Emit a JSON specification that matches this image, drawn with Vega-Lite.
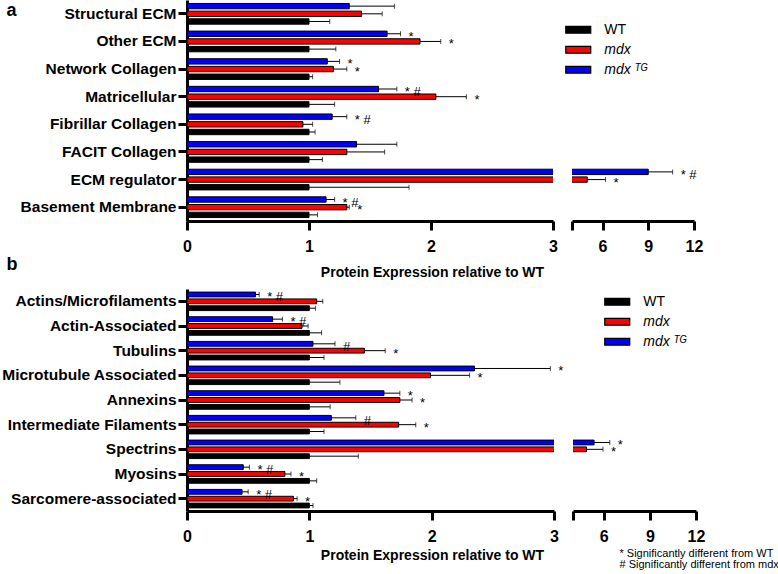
{
  "$schema": "https://vega.github.io/schema/vega-lite/v6.json",
  "padding": 0,
  "background": "white",
  "config": {
    "view": {"stroke": null},
    "font": "Liberation Sans",
    "axis": {"grid": false, "domainColor": "black", "tickColor": "black", "labelColor": "black", "titleColor": "black", "labelFont": "Liberation Sans", "titleFont": "Liberation Sans"}
  },
  "datasets": {
    "a": [
      {"cat": "Structural ECM", "grp": "mdxTG", "v": 1.33, "hi": 1.70, "sig": ""},
      {"cat": "Structural ECM", "grp": "mdx", "v": 1.43, "hi": 1.60, "sig": ""},
      {"cat": "Structural ECM", "grp": "WT", "v": 1.0, "hi": 1.17, "sig": ""},
      {"cat": "Other ECM", "grp": "mdxTG", "v": 1.64, "hi": 1.75, "sig": "*"},
      {"cat": "Other ECM", "grp": "mdx", "v": 1.91, "hi": 2.08, "sig": "*"},
      {"cat": "Other ECM", "grp": "WT", "v": 1.0, "hi": 1.22, "sig": ""},
      {"cat": "Network Collagen", "grp": "mdxTG", "v": 1.15, "hi": 1.25, "sig": "*"},
      {"cat": "Network Collagen", "grp": "mdx", "v": 1.20, "hi": 1.31, "sig": "*"},
      {"cat": "Network Collagen", "grp": "WT", "v": 1.0, "hi": 1.03, "sig": ""},
      {"cat": "Matricellular", "grp": "mdxTG", "v": 1.57, "hi": 1.72, "sig": "* #"},
      {"cat": "Matricellular", "grp": "mdx", "v": 2.04, "hi": 2.29, "sig": "*"},
      {"cat": "Matricellular", "grp": "WT", "v": 1.0, "hi": 1.21, "sig": ""},
      {"cat": "Fibrillar Collagen", "grp": "mdxTG", "v": 1.19, "hi": 1.31, "sig": "* #"},
      {"cat": "Fibrillar Collagen", "grp": "mdx", "v": 0.95, "hi": 1.03, "sig": ""},
      {"cat": "Fibrillar Collagen", "grp": "WT", "v": 1.0, "hi": 1.05, "sig": ""},
      {"cat": "FACIT Collagen", "grp": "mdxTG", "v": 1.39, "hi": 1.72, "sig": ""},
      {"cat": "FACIT Collagen", "grp": "mdx", "v": 1.31, "hi": 1.62, "sig": ""},
      {"cat": "FACIT Collagen", "grp": "WT", "v": 1.0, "hi": 1.11, "sig": ""},
      {"cat": "ECM regulator", "grp": "mdxTG", "v": 9.0, "hi": 10.6, "sig": "* #"},
      {"cat": "ECM regulator", "grp": "mdx", "v": 5.0, "hi": 6.2, "sig": "*"},
      {"cat": "ECM regulator", "grp": "WT", "v": 1.0, "hi": 1.82, "sig": ""},
      {"cat": "Basement Membrane", "grp": "mdxTG", "v": 1.14, "hi": 1.21, "sig": "* #"},
      {"cat": "Basement Membrane", "grp": "mdx", "v": 1.31, "hi": 1.33, "sig": "*"},
      {"cat": "Basement Membrane", "grp": "WT", "v": 1.0, "hi": 1.07, "sig": ""}
    ],
    "b": [
      {"cat": "Actins/Microfilaments", "grp": "mdxTG", "v": 0.56, "hi": 0.59, "sig": "* #"},
      {"cat": "Actins/Microfilaments", "grp": "mdx", "v": 1.06, "hi": 1.11, "sig": ""},
      {"cat": "Actins/Microfilaments", "grp": "WT", "v": 1.0, "hi": 1.05, "sig": ""},
      {"cat": "Actin-Associated", "grp": "mdxTG", "v": 0.70, "hi": 0.78, "sig": "* #"},
      {"cat": "Actin-Associated", "grp": "mdx", "v": 0.94, "hi": 0.99, "sig": ""},
      {"cat": "Actin-Associated", "grp": "WT", "v": 1.0, "hi": 1.10, "sig": ""},
      {"cat": "Tubulins", "grp": "mdxTG", "v": 1.03, "hi": 1.21, "sig": "#"},
      {"cat": "Tubulins", "grp": "mdx", "v": 1.45, "hi": 1.62, "sig": "*"},
      {"cat": "Tubulins", "grp": "WT", "v": 1.0, "hi": 1.12, "sig": ""},
      {"cat": "Microtubule Associated", "grp": "mdxTG", "v": 2.35, "hi": 2.97, "sig": "*"},
      {"cat": "Microtubule Associated", "grp": "mdx", "v": 1.99, "hi": 2.31, "sig": "*"},
      {"cat": "Microtubule Associated", "grp": "WT", "v": 1.0, "hi": 1.25, "sig": ""},
      {"cat": "Annexins", "grp": "mdxTG", "v": 1.61, "hi": 1.74, "sig": "*"},
      {"cat": "Annexins", "grp": "mdx", "v": 1.74, "hi": 1.84, "sig": "*"},
      {"cat": "Annexins", "grp": "WT", "v": 1.0, "hi": 1.17, "sig": ""},
      {"cat": "Intermediate Filaments", "grp": "mdxTG", "v": 1.18, "hi": 1.38, "sig": "#"},
      {"cat": "Intermediate Filaments", "grp": "mdx", "v": 1.73, "hi": 1.87, "sig": "*"},
      {"cat": "Intermediate Filaments", "grp": "WT", "v": 1.0, "hi": 1.12, "sig": ""},
      {"cat": "Spectrins", "grp": "mdxTG", "v": 5.37, "hi": 6.39, "sig": "*"},
      {"cat": "Spectrins", "grp": "mdx", "v": 4.88, "hi": 5.95, "sig": "*"},
      {"cat": "Spectrins", "grp": "WT", "v": 1.0, "hi": 1.40, "sig": ""},
      {"cat": "Myosins", "grp": "mdxTG", "v": 0.46, "hi": 0.51, "sig": "* #"},
      {"cat": "Myosins", "grp": "mdx", "v": 0.80, "hi": 0.85, "sig": "*"},
      {"cat": "Myosins", "grp": "WT", "v": 1.0, "hi": 1.06, "sig": ""},
      {"cat": "Sarcomere-associated", "grp": "mdxTG", "v": 0.45, "hi": 0.50, "sig": "* #"},
      {"cat": "Sarcomere-associated", "grp": "mdx", "v": 0.87, "hi": 0.90, "sig": "*"},
      {"cat": "Sarcomere-associated", "grp": "WT", "v": 1.0, "hi": 1.03, "sig": ""}
    ]
  },
  "spacing": -24,
  "resolve": {"legend": {"color": "independent"}, "scale": {"yOffset": "independent"}},
  "vconcat": [
    {
      "spacing": 19,
      "bounds": "flush",
      "resolve": {"legend": {"color": "independent"}, "scale": {"yOffset": "independent"}},
      "hconcat": [
        {
          "width": 366,
          "height": 221,
          "data": {"name": "a"},
          "encoding": {
            "y": {"field": "cat", "type": "nominal", "sort": null, "scale": {"paddingInner": 0.25, "paddingOuter": 0.125},
              "axis": {"title": "a", "titleAngle": 0, "titleX": -181, "titleY": 10, "titleAlign": "left", "titleBaseline": "middle", "titleFontSize": 18, "titleFontWeight": "bold",
                "minExtent": 187, "maxExtent": 187, "domainWidth": 3, "tickWidth": 3, "tickSize": 9, "labelFontSize": 15.5, "labelFontWeight": "bold", "labelPadding": 2}},
            "yOffset": {"field": "grp", "type": "nominal", "sort": ["mdxTG", "mdx", "WT"], "scale": {"paddingInner": 0.3}},
            "x": {"field": "v", "type": "quantitative", "scale": {"domain": [0, 3], "nice": false, "zero": false},
              "axis": {"values": [0, 1, 2, 3], "format": "d", "domainWidth": 3, "tickWidth": 3, "tickSize": 9, "labelFontSize": 16, "labelFontWeight": "bold", "labelPadding": 8, "labelFlush": false, "labelOverlap": false,
                "title": "Protein Expression relative to WT", "titleFontSize": 14, "titleFontWeight": "bold", "titleX": 245, "titleY": 51, "titleAlign": "center", "titleBaseline": "middle"}}
          },
          "layer": [
            {"mark": {"type": "bar", "clip": true, "stroke": "black", "strokeWidth": 1},
              "encoding": {"color": {"field": "grp", "type": "nominal", "scale": {"domain": ["WT", "mdx", "mdxTG"], "range": ["#000000", "#ff0000", "#0000ff"]}, "legend": null}}},
            {"mark": {"type": "rule", "clip": true, "color": "black", "strokeWidth": 1}, "encoding": {"x2": {"field": "hi"}}},
            {"mark": {"type": "tick", "clip": true, "color": "black", "thickness": 1, "size": 5}, "encoding": {"x": {"field": "hi", "type": "quantitative"}}},
            {"transform": [{"filter": "datum.hi <= 3.05"}],
              "mark": {"type": "text", "align": "left", "baseline": "middle", "dx": 8, "dy": 3, "fontSize": 13, "color": "black"},
              "encoding": {"x": {"field": "hi", "type": "quantitative"}, "text": {"field": "sig"}}}
          ]
        },
        {
          "width": 122,
          "height": 221,
          "data": {"name": "a"},
          "encoding": {
            "y": {"field": "cat", "type": "nominal", "sort": null, "scale": {"paddingInner": 0.25, "paddingOuter": 0.125}, "axis": null},
            "yOffset": {"field": "grp", "type": "nominal", "sort": ["mdxTG", "mdx", "WT"], "scale": {"paddingInner": 0.3}},
            "x": {"field": "v", "type": "quantitative", "scale": {"domain": [4, 12], "nice": false, "zero": false},
              "axis": {"values": [4, 6, 9, 12], "labelExpr": "datum.value == 4 ? '' : datum.label", "domainWidth": 3, "tickWidth": 3, "tickSize": 9, "labelFontSize": 16, "labelFontWeight": "bold", "labelPadding": 8, "labelFlush": false, "labelOverlap": false, "title": null}}
          },
          "layer": [
            {"mark": {"type": "bar", "clip": true, "stroke": "black", "strokeWidth": 1},
              "encoding": {"color": {"field": "grp", "type": "nominal", "scale": {"domain": ["WT", "mdx", "mdxTG"], "range": ["#000000", "#ff0000", "#0000ff"]},
                "legend": {"orient": "none", "legendX": -0.75, "legendY": 22.75, "title": null, "padding": 0, "symbolType": "M-2,-0.55H2V0.55H-2Z", "symbolSize": 156, "symbolStrokeColor": "black", "symbolStrokeWidth": 1.2,
                  "labelFontSize": 14, "labelFont": "Liberation Sans", "labelColor": "black", "labelOffset": 19, "rowPadding": 6,
                  "labelExpr": "datum.value == 'mdxTG' ? 'mdx ᵀᴳ' : datum.label",
                  "labelFontStyle": {"expr": "datum.value == 'WT' ? 'normal' : 'italic'"}}}}},
            {"mark": {"type": "rule", "clip": true, "color": "black", "strokeWidth": 1}, "encoding": {"x2": {"field": "hi"}}},
            {"mark": {"type": "tick", "clip": true, "color": "black", "thickness": 1, "size": 5}, "encoding": {"x": {"field": "hi", "type": "quantitative"}}},
            {"transform": [{"filter": "datum.hi > 3.05"}],
              "mark": {"type": "text", "align": "left", "baseline": "middle", "dx": 8, "dy": 3, "fontSize": 13, "color": "black"},
              "encoding": {"x": {"field": "hi", "type": "quantitative"}, "text": {"field": "sig"}}}
          ]
        }
      ]
    },
    {
      "spacing": 19,
      "bounds": "flush",
      "resolve": {"legend": {"color": "independent"}, "scale": {"yOffset": "independent"}},
      "hconcat": [
        {
          "width": 367,
          "height": 222,
          "data": {"name": "b"},
          "encoding": {
            "y": {"field": "cat", "type": "nominal", "sort": null, "scale": {"paddingInner": 0.25, "paddingOuter": 0.125},
              "axis": {"title": "b", "titleAngle": 0, "titleX": -181, "titleY": -25, "titleAlign": "left", "titleBaseline": "middle", "titleFontSize": 18, "titleFontWeight": "bold",
                "minExtent": 187, "maxExtent": 187, "domainWidth": 3, "tickWidth": 3, "tickSize": 9, "labelFontSize": 15.5, "labelFontWeight": "bold", "labelPadding": 2}},
            "yOffset": {"field": "grp", "type": "nominal", "sort": ["mdxTG", "mdx", "WT"], "scale": {"paddingInner": 0.3}},
            "x": {"field": "v", "type": "quantitative", "scale": {"domain": [0, 3], "nice": false, "zero": false},
              "axis": {"values": [0, 1, 2, 3], "format": "d", "domainWidth": 3, "tickWidth": 3, "tickSize": 9, "labelFontSize": 16, "labelFontWeight": "bold", "labelPadding": 8, "labelFlush": false, "labelOverlap": false,
                "title": "Protein Expression relative to WT", "titleFontSize": 14, "titleFontWeight": "bold", "titleX": 245, "titleY": 44, "titleAlign": "center", "titleBaseline": "middle"}}
          },
          "layer": [
            {"mark": {"type": "bar", "clip": true, "stroke": "black", "strokeWidth": 1},
              "encoding": {"color": {"field": "grp", "type": "nominal", "scale": {"domain": ["WT", "mdx", "mdxTG"], "range": ["#000000", "#ff0000", "#0000ff"]}, "legend": null}}},
            {"mark": {"type": "rule", "clip": true, "color": "black", "strokeWidth": 1}, "encoding": {"x2": {"field": "hi"}}},
            {"mark": {"type": "tick", "clip": true, "color": "black", "thickness": 1, "size": 5}, "encoding": {"x": {"field": "hi", "type": "quantitative"}}},
            {"transform": [{"filter": "datum.hi <= 3.05"}],
              "mark": {"type": "text", "align": "left", "baseline": "middle", "dx": 8, "dy": 3, "fontSize": 13, "color": "black"},
              "encoding": {"x": {"field": "hi", "type": "quantitative"}, "text": {"field": "sig"}}}
          ]
        },
        {
          "width": 123,
          "height": 222,
          "data": {"name": "b"},
          "encoding": {
            "y": {"field": "cat", "type": "nominal", "sort": null, "scale": {"paddingInner": 0.25, "paddingOuter": 0.125}, "axis": null},
            "yOffset": {"field": "grp", "type": "nominal", "sort": ["mdxTG", "mdx", "WT"], "scale": {"paddingInner": 0.3}},
            "x": {"field": "v", "type": "quantitative", "scale": {"domain": [4, 12], "nice": false, "zero": false},
              "axis": {"values": [4, 6, 9, 12], "labelExpr": "datum.value == 4 ? '' : datum.label", "domainWidth": 3, "tickWidth": 3, "tickSize": 9, "labelFontSize": 16, "labelFontWeight": "bold", "labelPadding": 8, "labelFlush": false, "labelOverlap": false,
                "title": ["* Significantly different from WT", "# Significantly different from mdx"], "titleFontSize": 11, "titleFontWeight": "normal", "titleLineHeight": 11.5, "titleX": 46, "titleY": 36, "titleAlign": "left", "titleBaseline": "top"}}
          },
          "layer": [
            {"mark": {"type": "bar", "clip": true, "stroke": "black", "strokeWidth": 1},
              "encoding": {"color": {"field": "grp", "type": "nominal", "scale": {"domain": ["WT", "mdx", "mdxTG"], "range": ["#000000", "#ff0000", "#0000ff"]},
                "legend": {"orient": "none", "legendX": 37.25, "legendY": 5.75, "title": null, "padding": 0, "symbolType": "M-2,-0.55H2V0.55H-2Z", "symbolSize": 156, "symbolStrokeColor": "black", "symbolStrokeWidth": 1.2,
                  "labelFontSize": 14, "labelFont": "Liberation Sans", "labelColor": "black", "labelOffset": 19, "rowPadding": 6,
                  "labelExpr": "datum.value == 'mdxTG' ? 'mdx ᵀᴳ' : datum.label",
                  "labelFontStyle": {"expr": "datum.value == 'WT' ? 'normal' : 'italic'"}}}}},
            {"mark": {"type": "rule", "clip": true, "color": "black", "strokeWidth": 1}, "encoding": {"x2": {"field": "hi"}}},
            {"mark": {"type": "tick", "clip": true, "color": "black", "thickness": 1, "size": 5}, "encoding": {"x": {"field": "hi", "type": "quantitative"}}},
            {"transform": [{"filter": "datum.hi > 3.05"}],
              "mark": {"type": "text", "align": "left", "baseline": "middle", "dx": 8, "dy": 3, "fontSize": 13, "color": "black"},
              "encoding": {"x": {"field": "hi", "type": "quantitative"}, "text": {"field": "sig"}}}
          ]
        }
      ]
    }
  ]
}
